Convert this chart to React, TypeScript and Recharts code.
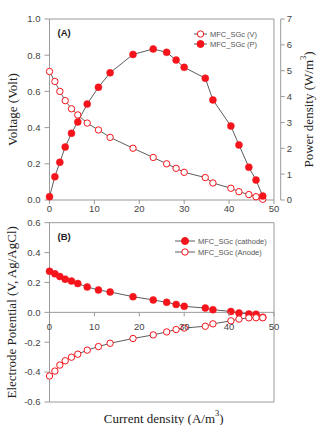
import React from "react";
import {
  LineChart,
  Line,
  XAxis,
  YAxis,
  ReferenceArea,
  ReferenceLine,
  Legend,
} from "recharts";

// current density (A/m3), shared by both panels
const currentDensity = [
  0, 1.2, 2.3, 3.5, 4.9, 6.3, 8.4, 10.9, 13.5, 18.6, 23.1, 26.1, 28.2, 30.0,
  34.7, 36.4, 40.4, 42.2, 44.4, 46.0, 47.5,
];
// panel A
const voltage = [
  0.71, 0.655, 0.6, 0.549, 0.504, 0.47, 0.425, 0.387, 0.346, 0.286, 0.235,
  0.2, 0.175, 0.153, 0.124, 0.094, 0.065, 0.046, 0.03, 0.018, 0.004,
];
const powerDensity = [
  0.13, 0.9, 1.46, 2.05, 2.58, 3.02, 3.71, 4.36, 4.92, 5.63, 5.84, 5.71, 5.41,
  5.13, 4.71, 3.87, 2.86, 2.13, 1.27, 0.77, 0.15,
];
// panel B
const cathode = [
  0.275, 0.258, 0.24, 0.222, 0.209, 0.193, 0.17, 0.15, 0.136, 0.105, 0.083,
  0.067, 0.053, 0.04, 0.029, 0.018, 0.006, -0.004, -0.011, -0.013, -0.033,
];
const anode = [
  -0.426, -0.393, -0.353, -0.324, -0.3, -0.28, -0.253, -0.229, -0.207, -0.175,
  -0.151, -0.131, -0.115, -0.105, -0.093, -0.077, -0.057, -0.045, -0.037,
  -0.036, -0.036,
];

const xTicks = [0, 10, 20, 30, 40, 50];
const voltTicks = [0, 0.2, 0.4, 0.6, 0.8, 1.0];
const powerTicks = [0, 1, 2, 3, 4, 5, 6, 7];
const potentialTicks = [-0.6, -0.4, -0.2, 0, 0.2, 0.4, 0.6];

const dataA = currentDensity.map((x, i) => ({ x, v: voltage[i], p: powerDensity[i] }));
const dataB = currentDensity.map((x, i) => ({ x, cathode: cathode[i], anode: anode[i] }));

const RED = "#f5141b";
const LINE = "#4a4a4a";
const FRAME = "#9a9a9a";
const TICK_FONT = { fontFamily: "Liberation Sans, Arial, sans-serif", fontSize: 9.5, fill: "#444" };
const SERIF = "Liberation Serif, Times New Roman, serif";

const openDot = { r: 3.2, fill: "#fff", stroke: RED, strokeWidth: 1 };
const filledDot = { r: 3.5, fill: RED, stroke: RED, strokeWidth: 0.5 };

const PLOT_H_B = 179.3;
const B_MIN = -0.6;
const B_MAX = 0.6;

type LegendRow = { name: string; filled: boolean };

const makeLegend = (rows: LegendRow[], rowGap: number, lineW: number) => () => (
  <svg width={90} height={rows.length * rowGap + 4} style={{ overflow: "visible" }}>
    {rows.map((r, i) => {
      const cy = 5 + i * rowGap;
      return (
        <g key={r.name}>
          <line x1={0} x2={lineW} y1={cy} y2={cy} stroke={LINE} strokeWidth={0.9} />
          <circle
            cx={lineW / 2}
            cy={cy}
            r={r.filled ? 3.5 : 3.2}
            fill={r.filled ? RED : "#fff"}
            stroke={RED}
            strokeWidth={1}
          />
          <text
            x={lineW + 3}
            y={cy}
            dominantBaseline="central"
            fontFamily="Liberation Sans, Arial, sans-serif"
            fontSize={7.5}
            fill="#555"
          >
            {r.name}
          </text>
        </g>
      );
    })}
  </svg>
);

const legendA = makeLegend(
  [
    { name: "MFC_SGc (V)", filled: false },
    { name: "MFC_SGc (P)", filled: true },
  ],
  10,
  13
);
const legendB = makeLegend(
  [
    { name: "MFC_SGc (cathode)", filled: true },
    { name: "MFC_SGc (Anode)", filled: false },
  ],
  11,
  20
);

// rotated axis title with optional superscript unit
const SideTitle = ({ viewBox, x, text, sup, tail }: any) => {
  const cy = viewBox.y + viewBox.height / 2;
  return (
    <text
      x={x}
      y={cy}
      transform={`rotate(-90, ${x}, ${cy})`}
      textAnchor="middle"
      dominantBaseline="central"
      fontFamily={SERIF}
      fontSize={13}
      fill="#222"
    >
      {text}
      {sup ? (
        <>
          <tspan dy={-5} fontSize={8.5}>
            {sup}
          </tspan>
          <tspan dy={5}>{tail}</tspan>
        </>
      ) : null}
    </text>
  );
};

const PanelTag = ({ viewBox, text }: any) => (
  <text
    x={viewBox.x + 8}
    y={viewBox.y + 17}
    fontFamily="Liberation Sans, Arial, sans-serif"
    fontSize={9.5}
    fontWeight="bold"
    fill="#222"
  >
    {text}
  </text>
);

// x ticks of panel B sit on the zero line
const ZeroTick = ({ x, y, payload }: any) => {
  const zeroY = y - (PLOT_H_B * (0 - B_MIN)) / (B_MAX - B_MIN);
  return (
    <g>
      <line x1={x} x2={x} y1={zeroY} y2={zeroY + 4} stroke={FRAME} />
      <text x={x} y={zeroY + 17.4} textAnchor="middle" {...TICK_FONT}>
        {payload.value}
      </text>
    </g>
  );
};

export default function App() {
  return (
    <div
      style={{
        position: "absolute",
        left: 0,
        top: 0,
        width: 320,
        height: 425,
        background: "#fff",
      }}
    >
      <div style={{ position: "absolute", left: 0, top: 0 }}>
        <LineChart
          width={320}
          height={215}
          data={dataA}
          margin={{ top: 19, right: 14.3, bottom: 0, left: 9.5 }}
        >
          <XAxis
            dataKey="x"
            type="number"
            domain={[0, 51.5]}
            ticks={xTicks}
            axisLine={false}
            tickLine={{ stroke: FRAME }}
            tickSize={4}
            tickMargin={1}
            height={15}
            tick={TICK_FONT}
            interval={0}
          />
          <YAxis
            yAxisId="v"
            domain={[0, 1]}
            ticks={voltTicks}
            tickFormatter={(v: number) => v.toFixed(1)}
            width={40}
            axisLine={{ stroke: FRAME }}
            tickLine={{ stroke: FRAME }}
            tickSize={5}
            tickMargin={4}
            tick={TICK_FONT}
            interval={0}
            label={{ content: (p: any) => <SideTitle {...p} x={12.5} text="Voltage (Volt)" /> }}
          />
          <YAxis
            yAxisId="p"
            orientation="right"
            domain={[0, 7]}
            ticks={powerTicks}
            width={25}
            axisLine={{ stroke: FRAME }}
            tickLine={{ stroke: FRAME }}
            tickSize={4}
            tickMargin={2}
            tick={TICK_FONT}
            interval={0}
            label={{
              content: (p: any) => (
                <SideTitle {...p} x={308} text="Power density (W/m" sup="3" tail=")" />
              ),
            }}
          />
          <ReferenceArea
            yAxisId="v"
            x1={0}
            x2={50}
            y1={0}
            y2={1}
            fill="none"
            stroke={FRAME}
            strokeWidth={1}
            label={{ content: (p: any) => <PanelTag {...p} text="(A)" /> }}
          />
          <Legend
            layout="vertical"
            align="center"
            verticalAlign="middle"
            wrapperStyle={{ top: 29, left: 194, width: 90 }}
            content={legendA}
          />
          <Line
            yAxisId="v"
            dataKey="v"
            name="MFC_SGc (V)"
            type="linear"
            stroke={LINE}
            strokeWidth={0.9}
            dot={openDot}
            isAnimationActive={false}
          />
          <Line
            yAxisId="p"
            dataKey="p"
            name="MFC_SGc (P)"
            type="linear"
            stroke={LINE}
            strokeWidth={0.9}
            dot={filledDot}
            isAnimationActive={false}
          />
        </LineChart>
      </div>
      <div style={{ position: "absolute", left: 0, top: 215 }}>
        <LineChart
          width={320}
          height={210}
          data={dataB}
          margin={{ top: 7.7, right: 46, bottom: 0, left: 9.5 }}
        >
          <XAxis
            dataKey="x"
            type="number"
            domain={[0, 50]}
            ticks={xTicks}
            axisLine={false}
            tickLine={false}
            tickSize={0}
            tickMargin={0}
            height={23}
            tick={<ZeroTick />}
            interval={0}
            label={{
              content: (p: any) => (
                <text
                  x={p.viewBox.x + p.viewBox.width / 2 + 2}
                  y={p.viewBox.y + 16}
                  textAnchor="middle"
                  dominantBaseline="central"
                  fontFamily={SERIF}
                  fontSize={13}
                  fill="#222"
                >
                  Current density (A/m
                  <tspan dy={-5} fontSize={8.5}>
                    3
                  </tspan>
                  <tspan dy={5}>)</tspan>
                </text>
              ),
            }}
          />
          <YAxis
            domain={[B_MIN, B_MAX]}
            ticks={potentialTicks}
            tickFormatter={(v: number) => v.toFixed(1)}
            width={40}
            axisLine={{ stroke: FRAME }}
            tickLine={{ stroke: FRAME }}
            tickSize={5}
            tickMargin={4}
            tick={TICK_FONT}
            interval={0}
            label={{
              content: (p: any) => (
                <SideTitle {...p} x={11.5} text="Electrode Potential (V, Ag/AgCl)" />
              ),
            }}
          />
          <ReferenceArea
            x1={0}
            x2={50}
            y1={B_MIN}
            y2={B_MAX}
            fill="none"
            stroke={FRAME}
            strokeWidth={1}
            label={{ content: (p: any) => <PanelTag {...p} text="(B)" /> }}
          />
          <ReferenceLine y={0} stroke={FRAME} strokeWidth={1} />
          <Legend
            layout="vertical"
            align="center"
            verticalAlign="middle"
            wrapperStyle={{ top: 20.7, left: 175, width: 100 }}
            content={legendB}
          />
          <Line
            dataKey="cathode"
            name="MFC_SGc (cathode)"
            type="linear"
            stroke={LINE}
            strokeWidth={0.9}
            dot={filledDot}
            isAnimationActive={false}
          />
          <Line
            dataKey="anode"
            name="MFC_SGc (Anode)"
            type="linear"
            stroke={LINE}
            strokeWidth={0.9}
            dot={openDot}
            isAnimationActive={false}
          />
        </LineChart>
      </div>
    </div>
  );
}
